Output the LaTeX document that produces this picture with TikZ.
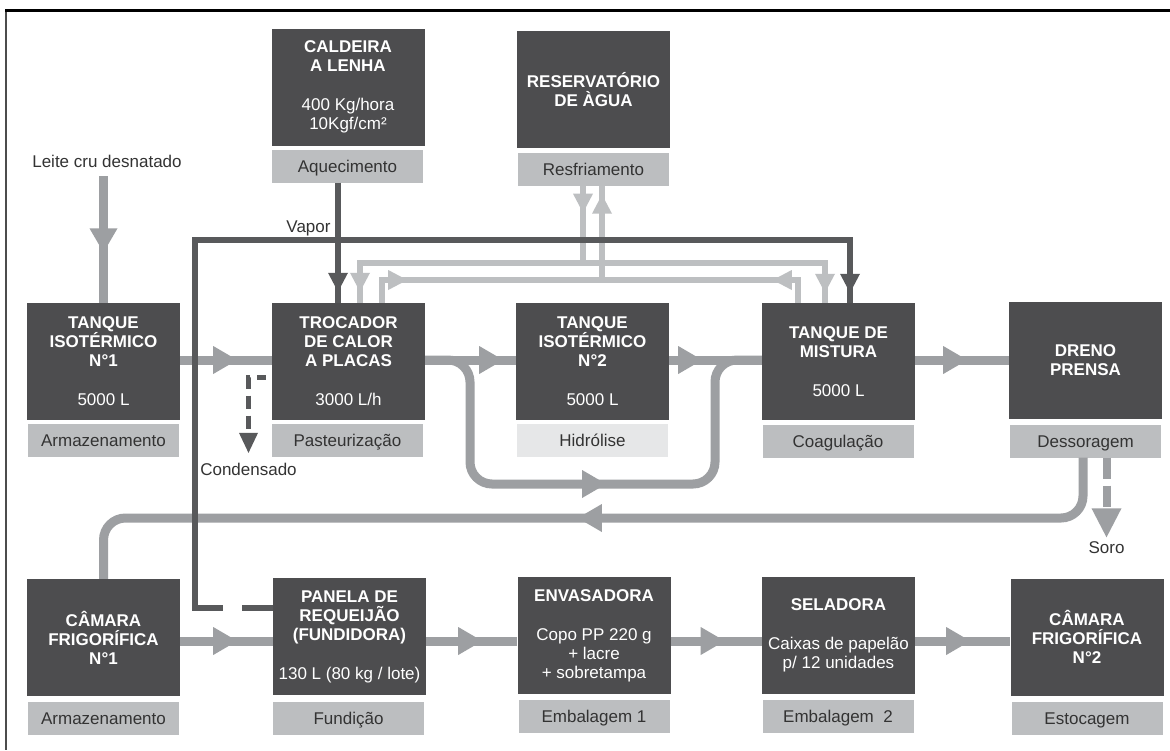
\documentclass[tikz,border=0pt]{standalone}
\usepackage{fontspec}
\setmainfont{Liberation Sans}
\usetikzlibrary{arrows.meta,decorations.markings}
\definecolor{boxc}{HTML}{4D4D4F}
\definecolor{labc}{HTML}{BCBEC0}
\definecolor{hidc}{HTML}{E6E7E8}
\definecolor{flowc}{HTML}{9D9FA2}
\definecolor{coolc}{HTML}{BDBFC1}
\definecolor{vapc}{HTML}{58595B}
\definecolor{txtc}{HTML}{333333}
\tikzset{
  bigtip/.tip={Triangle[width=28pt,length=24pt,line width=0pt]},
  smalltip/.tip={Triangle[width=20pt,length=19pt,line width=0pt]},
  sorotip/.tip={Triangle[width=30pt,length=29pt,line width=0pt]},
  condtip/.tip={Triangle[width=19pt,length=20pt,line width=0pt]},
  midtip/.style={postaction={decorate,decoration={markings,mark=at position #1 with {\arrow{bigtip}}}}},
  midsmall/.style={postaction={decorate,decoration={markings,mark=at position #1 with {\arrow{smalltip}}}}},
  midsmalltwo/.style 2 args={postaction={decorate,decoration={markings,
      mark=at position #1 with {\arrow{smalltip}},
      mark=at position #2 with {\arrow{smalltip}}}}},
  eqbox/.style={fill=boxc, minimum width=153pt, minimum height=117pt, text=white,
      align=center, inner sep=0pt, font=\fontsize{17}{19}\selectfont\bfseries},
  labbox/.style={fill=labc, minimum width=151pt, minimum height=33pt, text=txtc,
      inner sep=0pt, text height=12.2pt, text depth=0pt, font=\fontsize{17}{19}\selectfont},
  freetxt/.style={text=txtc, inner xsep=1pt, font=\fontsize{17}{19}\selectfont},
  flow/.style={draw=flowc, line width=9pt},
  cool/.style={draw=coolc, line width=5.5pt},
  vap/.style={draw=vapc, line width=5.5pt},
}
\begin{document}
\begin{tikzpicture}[x=1pt,y=-1pt]
\useasboundingbox (0,0) rectangle (1170,750);
\fill[white] (0,0) rectangle (1170,750);
\draw[black!70, line width=1.5pt] (6,10) -- (6,750);
\draw[black, line width=3pt] (5,10) -- (1170,10);

% equipment boxes and stage labels
\node[eqbox] (cald) at (348,87) {CALDEIRA\\A LENHA\\[20pt]\textmd{400 Kg/hora}\\\textmd{10Kgf/cm²}};
\node[labbox] (aquec) at (347.5,166) {Aquecimento};
\node[eqbox] (res) at (593.5,89.5) {RESERVATÓRIO\\DE ÀGUA};
\node[labbox] (resf) at (593.5,169) {Resfriamento};

\node[eqbox] (t1) at (103.5,361.5) {TANQUE\\ISOTÉRMICO\\N°1\\[20pt]\textmd{5000 L}};
\node[labbox] (arm1) at (103.5,440.5) {Armazenamento};
\node[eqbox] (tr) at (348.5,361.5) {TROCADOR\\DE CALOR\\A PLACAS\\[20pt]\textmd{3000 L/h}};
\node[labbox] (past) at (347.5,440.5) {Pasteurização};
\node[eqbox] (t2) at (592.5,361.5) {TANQUE\\ISOTÉRMICO\\N°2\\[20pt]\textmd{5000 L}};
\node[labbox, fill=hidc] (hidr) at (592.5,440.5) {Hidrólise};
\node[eqbox] (mist) at (838.5,361.5) {TANQUE DE\\MISTURA\\[20pt]\textmd{5000 L}};
\node[labbox] (coag) at (838,441.5) {Coagulação};
\node[eqbox] (dreno) at (1085.5,360.5) {DRENO\\PRENSA};
\node[labbox] (dess) at (1085.5,441) {Dessoragem};

\node[eqbox] (cam1) at (103.5,637.5) {CÂMARA\\FRIGORÍFICA\\N°1};
\node[labbox] (arm2) at (103.5,718.5) {Armazenamento};
\node[eqbox] (pan) at (349.5,636.5) {PANELA DE\\REQUEIJÃO\\(FUNDIDORA)\\[20pt]\textmd{130 L (80 kg / lote)}};
\node[labbox] (fund) at (348.5,718.5) {Fundição};
\node[eqbox] (env) at (594,635.5) {ENVASADORA\\[20pt]\textmd{Copo PP 220 g}\\\textmd{+ lacre}\\\textmd{+ sobretampa}};
\node[labbox] (emb1) at (594,716.5) {Embalagem 1};
\node[eqbox] (sel) at (838.5,635.5) {SELADORA\\[20pt]\textmd{Caixas de papelão}\\\textmd{p/ 12 unidades}};
\node[labbox] (emb2) at (838,716.5) {Embalagem\ \ 2};
\node[eqbox] (cam2) at (1087,637) {CÂMARA\\FRIGORÍFICA\\N°2};
\node[labbox] (esto) at (1087,718.5) {Estocagem};

% free texts
\node[freetxt, anchor=base, inner ysep=9pt] (leite) at (107,167) {Leite cru desnatado};
\node[freetxt, anchor=base, inner ysep=1pt] (vapor) at (308.5,232) {Vapor};
\node[freetxt, anchor=base, inner ysep=9.6pt] (cond) at (248.5,475) {Condensado};
\node[freetxt, anchor=base, inner ysep=3.6pt] (soro) at (1106.5,553) {Soro};

% product flow
\draw[flow, midtip=76pt] (t1.north |- leite.south) -- (t1.north);
\draw[flow, midtip=57pt] (t1.east |- 0,360) -- (tr.west |- 0,360);
\draw[flow, midtip=78pt] (tr.east |- 0,360) -- (t2.west |- 0,360);
\draw[flow, midtip=33pt] (t2.east |- 0,360) -- (mist.west |- 0,360);
\draw[flow, midtip=52pt] (mist.east |- 0,360) -- (dreno.west |- 0,360);
\draw[flow, rounded corners=22pt, midtip=286pt] (tr.east |- 0,360) -- (470,360) -- (470,484)
   -- (715,484) -- (715,360) -- (mist.west |- 0,360);
\draw[flow, rounded corners=22pt, midtip=556pt] (dess.south -| 1083,0) -- (1083,518)
   -- (cam1.north |- 0,518) -- (cam1.north);
\draw[flow, midtip=57pt] (cam1.east |- 0,641) -- (pan.west |- 0,641);
\draw[flow, midtip=56pt] (pan.east |- 0,641) -- (env.west |- 0,641);
\draw[flow, midtip=54pt] (env.east |- 0,641) -- (sel.west |- 0,641);
\draw[flow, midtip=55pt] (sel.east |- 0,641) -- (cam2.west |- 0,641);
\draw[draw=flowc, line width=8pt, dash pattern=on 21pt off 7pt, -{sorotip}]
   (dess.south -| soro.north) -- (soro.north);

% cooling water
\coordinate (sa) at (583,263);
\coordinate (sb) at (602,280);
\draw[cool, midsmalltwo={27pt}{-11pt}] (resf.south -| sa) -- (sa) -- (360,263) -- (tr.north -| 360,0);
\draw[cool, midsmall=-10pt] (sa) -- (825,263) -- (mist.north -| 825,0);
\draw[cool, midsmalltwo={48pt}{-9pt}] (tr.north -| 382,0) -- (382,280) -- (sb) -- (resf.south -| sb);
\draw[cool, midsmall=48pt] (mist.north -| 798,0) -- (798,280) -- (sb);

% steam
\coordinate (vj) at (338,240);
\coordinate (vg1) at (223,608);
\coordinate (vg2) at (242,608);
\draw[vap, midsmall=-11pt] (aquec.south -| vj) -- (tr.north -| vj);
\draw[vap, midsmall=-10pt] (vj) -- (850,240) -- (mist.north -| 850,0);
\draw[vap] (vj) -- (195,240) -- (195,608) -- (vg1);
\draw[vap] (vg2) -- (pan.west |- vg2);
\draw[vap, line width=5pt, dash pattern=on 0pt off 6pt on 9pt off 7pt on 13pt off 7pt on 13pt off 7pt on 13pt off 20pt, -{condtip}]
   (tr.west |- 0,377) -- (cond.north |- 0,377) -- (cond.north);
\end{tikzpicture}
\end{document}
